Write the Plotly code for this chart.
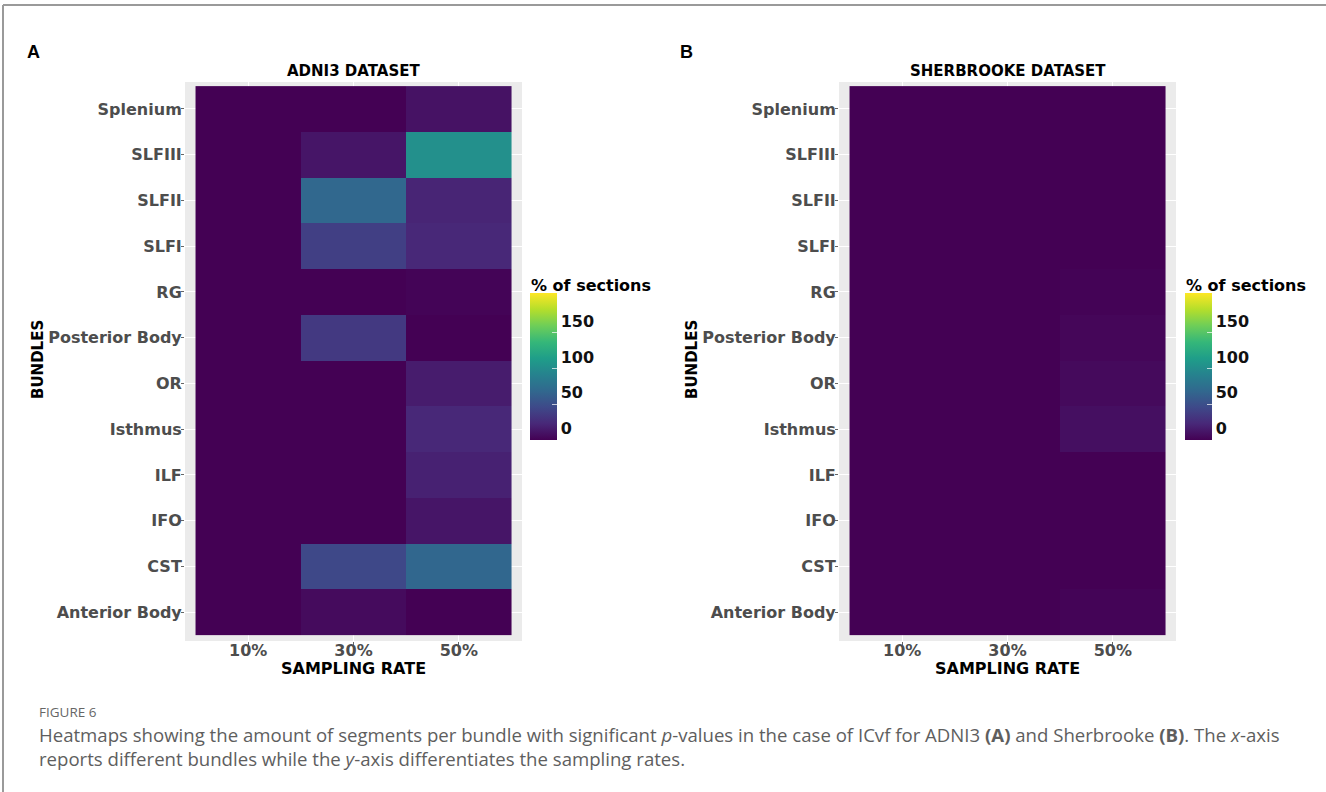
import plotly.graph_objects as go

W, H = 1326, 792

rates = ["10%", "30%", "50%"]
bundles = ["Splenium", "SLFIII", "SLFII", "SLFI", "RG", "Posterior Body", "OR",
           "Isthmus", "ILF", "IFO", "CST", "Anterior Body"]

adni3_10 = [0, 0, 0, 0, 0, 0, 0, 0, 0, 0, 0, 0]
adni3_30 = [0, 12, 69, 39, 0, 35, 0, 0, 0, 0, 45, 6]
adni3_50 = [10, 103, 21, 23, 2, 0, 16, 23, 19, 12, 68, 0]

sher_10 = [0, 0, 0, 0, 0, 0, 0, 0, 0, 0, 0, 0]
sher_30 = [0, 0, 0, 0, 0, 0, 0, 0, 0, 0, 0, 0]
sher_50 = [0, 0, 0, 0, 1, 3, 5, 8, 0, 0, 0, 2]

cbar_ticks = [0, 50, 100, 150]
ZMIN, ZMAX = 0, 206


def px(x):
    return x / W


def py(y):
    return 1 - y / H


BOLD = dict(family="DejaVu Sans", weight="bold")


def zmat(c1, c2, c3):
    return [[a, b, c] for a, b, c in zip(c1, c2, c3)]


fig = go.Figure()

panels = [
    dict(xa="x", ya="y", z=zmat(adni3_10, adni3_30, adni3_50), x0=185, cbx=530, title="ADNI3 DATASET"),
    dict(xa="x2", ya="y2", z=zmat(sher_10, sher_30, sher_50), x0=839, cbx=1185, title="SHERBROOKE DATASET"),
]

Y_TOP, Y_BOT = 82, 641
PW = 337

annotations = []
for i, p in enumerate(panels):
    fig.add_trace(go.Heatmap(
        z=p["z"], x=rates, y=bundles, xaxis=p["xa"], yaxis=p["ya"],
        colorscale="Viridis", zmin=ZMIN, zmax=ZMAX,
        colorbar=dict(
            x=px(p["cbx"]), xanchor="left", xref="paper",
            y=py((293 + 440) / 2), yanchor="middle", yref="paper",
            len=147 / H, lenmode="fraction",
            thickness=27, thicknessmode="pixels",
            xpad=0, ypad=0, outlinewidth=0,
            tickvals=cbar_ticks, ticktext=[str(t) for t in cbar_ticks],
            ticks="inside", ticklen=5, tickcolor="rgba(255,255,255,0.7)",
            ticklabelposition="outside top",
            tickfont=dict(size=16, color="#111", **BOLD),
        ),
        hoverongaps=False,
    ))
    sfx = "" if i == 0 else str(i + 1)
    xd = [px(p["x0"]), px(p["x0"] + PW)]
    yd = [py(Y_BOT), py(Y_TOP)]
    fig.layout["xaxis" + sfx] = dict(
        domain=xd, anchor="y" + sfx, type="category", range=[-0.6, 2.6],
        showgrid=True, gridcolor="white", gridwidth=1, zeroline=False,
        ticks="outside", ticklen=3, tickcolor="#666", ticklabelstandoff=-8,
        tickfont=dict(size=16, color="#4d4d4d", **BOLD),
        showline=False, fixedrange=True,
    )
    fig.layout["yaxis" + sfx] = dict(
        domain=yd, anchor="x" + sfx, type="category", range=[11.63, -0.59],
        showgrid=True, gridcolor="white", gridwidth=1, zeroline=False,
        ticks="outside", ticklen=3, tickcolor="#666", ticklabelstandoff=-4,
        tickfont=dict(size=16, color="#4d4d4d", **BOLD),
        showline=False, fixedrange=True,
    )
    cx = p["x0"] + PW / 2
    annotations += [
        dict(text=p["title"], x=px(cx), y=py(71), xref="paper", yref="paper",
             xanchor="center", yanchor="middle", showarrow=False,
             font=dict(size=15, color="black", **BOLD)),
        dict(text="SAMPLING RATE", x=px(cx), y=py(668), xref="paper", yref="paper",
             xanchor="center", yanchor="middle", showarrow=False,
             font=dict(size=16, color="black", **BOLD)),
        dict(text="BUNDLES", x=px(38 if i == 0 else 692), y=py(360), xref="paper", yref="paper",
             xanchor="center", yanchor="middle", showarrow=False, textangle=-90,
             font=dict(size=15, color="black", **BOLD)),
        dict(text="% of sections", x=px(p["cbx"] - 1), y=py(285), xref="paper", yref="paper",
             xanchor="left", yanchor="middle", showarrow=False,
             font=dict(size=16, color="black", **BOLD)),
        dict(text="A" if i == 0 else "B", x=px(33 if i == 0 else 686), y=py(52), xref="paper", yref="paper",
             xanchor="center", yanchor="middle", showarrow=False,
             font=dict(size=18, color="black", family="Liberation Sans", weight="bold")),
    ]

# gray panel backgrounds
shapes = []
for p in panels:
    shapes.append(dict(type="rect", xref="paper", yref="paper", layer="below",
                       x0=px(p["x0"]), x1=px(p["x0"] + PW), y0=py(Y_BOT), y1=py(Y_TOP),
                       fillcolor="#ebebeb", line=dict(width=0)))
# figure frame (top and left)
shapes.append(dict(type="line", xref="paper", yref="paper", x0=px(3), x1=1, y0=py(5), y1=py(5),
                   line=dict(color="#9a9a9a", width=2)))
shapes.append(dict(type="line", xref="paper", yref="paper", x0=px(3), x1=px(3), y0=py(5), y1=0,
                   line=dict(color="#9a9a9a", width=2)))

cap_font = dict(family="Open Sans", size=18.6, color="#5e5e5e")
annotations += [
    dict(text="FIGURE 6", x=px(37), y=py(712), xref="paper", yref="paper", xanchor="left",
         yanchor="middle", showarrow=False, font=dict(family="Open Sans", size=13.5, color="#666")),
    dict(text="Heatmaps showing the amount of segments per bundle with significant <i>p</i>-values in the case "
              "of ICvf for ADNI3 <b>(A)</b> and Sherbrooke <b>(B)</b>. The <i>x</i>-axis<br>"
              "reports different bundles while the <i>y</i>-axis differentiates the sampling rates.",
         x=px(37), y=py(746), xref="paper", yref="paper", xanchor="left", yanchor="middle",
         align="left", showarrow=False, font=cap_font),
]

fig.update_layout(
    width=W, height=H, margin=dict(l=0, r=0, t=0, b=0),
    paper_bgcolor="white", plot_bgcolor="#ebebeb",
    shapes=shapes, annotations=annotations, showlegend=False,
)

fig.write_html("out.html")
